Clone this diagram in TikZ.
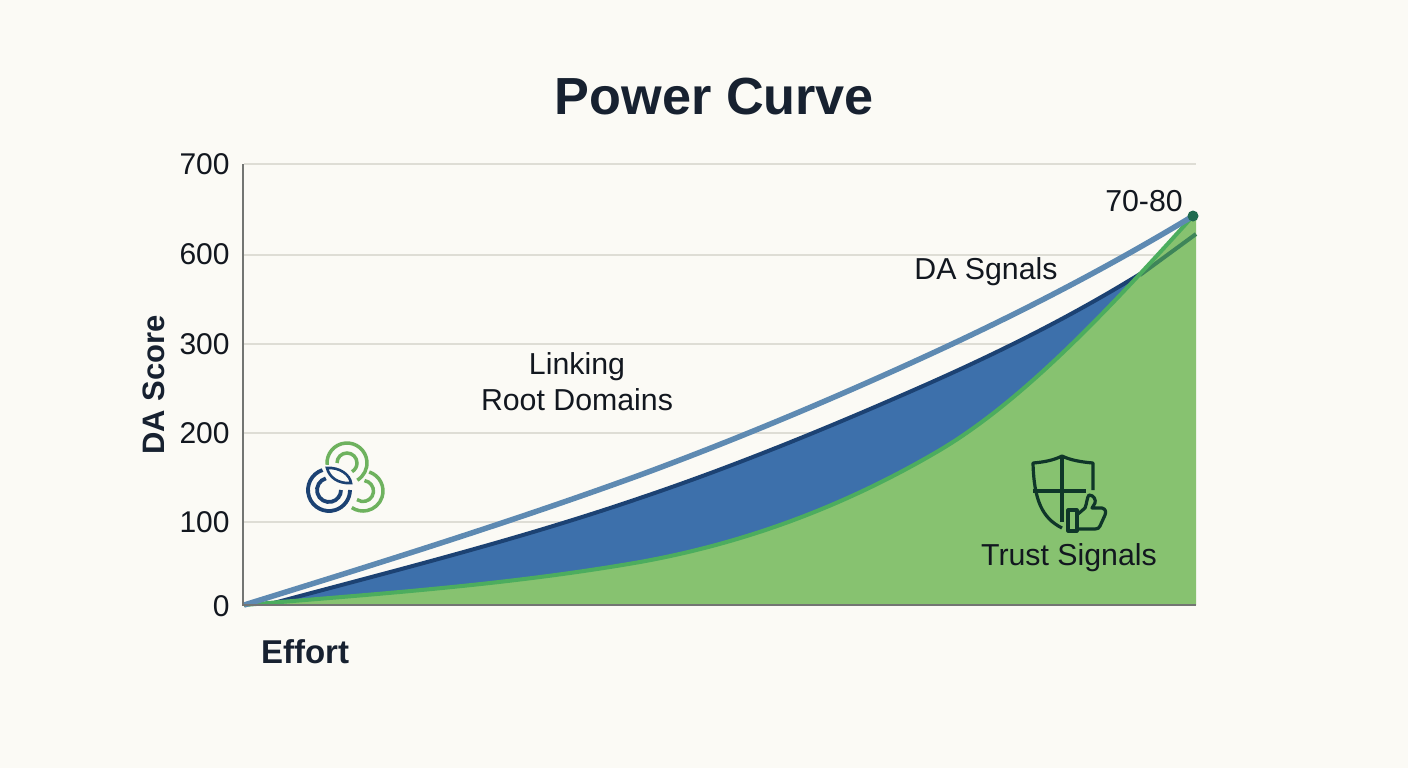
\documentclass[tikz,border=0pt]{standalone}
\usepackage{fontspec}
\setmainfont{Liberation Sans}
\newlength{\du}
\setlength{\du}{0.5pt}
\definecolor{papercolor}{rgb}{0.983, 0.982, 0.962}
\definecolor{gridcolor}{rgb}{0.870, 0.865, 0.835}
\definecolor{axiscolor}{rgb}{0.450, 0.460, 0.450}
\definecolor{inkcolor}{rgb}{0.090, 0.130, 0.190}
\definecolor{textcolor}{rgb}{0.070, 0.090, 0.120}
\definecolor{linecolor}{rgb}{0.370, 0.540, 0.700}
\definecolor{navycolor}{rgb}{0.110, 0.260, 0.450}
\definecolor{bandcolor}{rgb}{0.240, 0.440, 0.670}
\definecolor{greencolor}{rgb}{0.530, 0.760, 0.440}
\definecolor{edgecolor}{rgb}{0.300, 0.680, 0.370}
\definecolor{iconcolor}{rgb}{0.430, 0.700, 0.370}
\definecolor{dotcolor}{rgb}{0.120, 0.420, 0.310}
\definecolor{shieldcolor}{rgb}{0.060, 0.210, 0.160}
\newcommand{\lightcurve}{(244,605) .. controls (376,564) and (508,523) .. (640,475) .. controls (743,437) and (847,393) .. (950,345) .. controls (1031,307) and (1112,265) .. (1193,216)}
\newcommand{\navycurve}{(270,604) .. controls (393,571) and (517,540) .. (640,498) .. controls (729,468) and (818,432) .. (907,393) .. controls (985,359) and (1062,322) .. (1140,274)}
\newcommand{\greencurve}{(244,605) .. controls (376,594) and (508,585) .. (640,562) .. controls (740,544) and (840,509) .. (940,450) .. controls (1024,400) and (1109,309) .. (1193,216)}
\tikzset{
  tick/.style={font=\fontsize{30\du}{34\du}\selectfont, text=textcolor, anchor=east, inner sep=0pt},
  lab/.style={font=\fontsize{30.3\du}{36\du}\selectfont, text=textcolor, align=center, inner sep=0pt},
  heavy/.style={font=\fontsize{33\du}{36\du}\bfseries\selectfont, text=inkcolor, inner sep=0pt}
}
\begin{document}
\begin{tikzpicture}[x=\du,y=-\du]
\useasboundingbox[fill=papercolor] (0,0) rectangle (1408,768);
% grid
\foreach \ypos in {164,255,344,433,522}
  \draw[gridcolor,line width=1.6\du] (244,\ypos)--(1196,\ypos);
% areas
\fill[bandcolor] \navycurve -- (1140,605) -- (270,605) -- cycle;
\fill[greencolor] \greencurve -- (1196,216) -- (1196,605) -- cycle;
% lines
\draw[navycolor,line width=4\du] \navycurve;
\draw[dotcolor!70!greencolor,line width=4\du] (1140,275)--(1196,234);
\draw[edgecolor,line width=4\du] \greencurve;
\draw[linecolor,line width=5.5\du] \lightcurve;
% axes
\draw[axiscolor,line width=2\du] (243,164)--(243,605)--(1196,605);
\fill[dotcolor] (1193,216) circle (5.5\du);
% texts
\node[heavy,font=\fontsize{52.2\du}{58\du}\bfseries\selectfont] (title) at (714.5,97) {Power Curve};
\node[tick] (t700) at (230,164) {700};
\node[tick] (t600) at (230,254) {600};
\node[tick] (t300) at (230,344) {300};
\node[tick] (t200) at (230,433) {200};
\node[tick] (t100) at (230,522) {100};
\node[tick] (t0) at (230,606) {0};
\node[heavy,font=\fontsize{31\du}{36\du}\bfseries\selectfont,rotate=90] (yname) at (154,385) {DA Score};
\node[heavy] (xname) at (305,652) {Effort};
\node[lab] (roots) at (577,381.5) {Linking\\Root Domains};
\node[lab] (signals) at (986,272) {DA Sgnals};
\node[lab] (trust) at (1069,558) {Trust Signals};
\node[lab] (peak) at (1144,201) {70-80};
% rings
\draw[iconcolor,line width=3.5\du] ([shift={(347,463)}]175:20) arc (175:419:20);
\draw[iconcolor,line width=3.5\du] ([shift={(347,463)}]180:10) arc (180:420:10);
\draw[iconcolor,line width=3.5\du] ([shift={(363,491)}]-72:20) arc (-72:124:20);
\draw[iconcolor,line width=3.5\du] ([shift={(363,491)}]-82:10.5) arc (-82:125:10.5);
\draw[navycolor,line width=3.8\du] ([shift={(329,490)}]-108:21) arc (-108:-360:21);
\draw[navycolor,line width=3.8\du] ([shift={(329,490)}]-105:12) arc (-105:-360:12);
\draw[navycolor,line width=2.6\du,fill=papercolor] (327,468) .. controls (340,467) and (350,475) .. (351,483) .. controls (338,484) and (329,477) .. (327,468) -- cycle;
% shield
\draw[shieldcolor,line width=3.2\du,line join=round] (1062,522)--(1062,456);
\draw[shieldcolor,line width=3.2\du,line join=round] (1062,528) .. controls (1042,518) and (1034,500) .. (1033,463) .. controls (1045,462) and (1054,460) .. (1062,456) .. controls (1070,460) and (1081,462) .. (1093,463)--(1093,490);
\draw[shieldcolor,line width=3.2\du] (1033,491)--(1086,491);
\draw[shieldcolor,line width=3.2\du,line join=round] (1068,510) rectangle (1077,531);
\draw[shieldcolor,line width=3.2\du,line join=round] (1078,514)--(1085,508) .. controls (1087,503) and (1087,497) .. (1089,495) .. controls (1094,495) and (1096,500) .. (1095,503)--(1092,508)--(1102,508) .. controls (1106,509) and (1106,512) .. (1105,515)--(1100,526) .. controls (1099,528) and (1098,529) .. (1095,529)--(1078,529);
\end{tikzpicture}
\end{document}
